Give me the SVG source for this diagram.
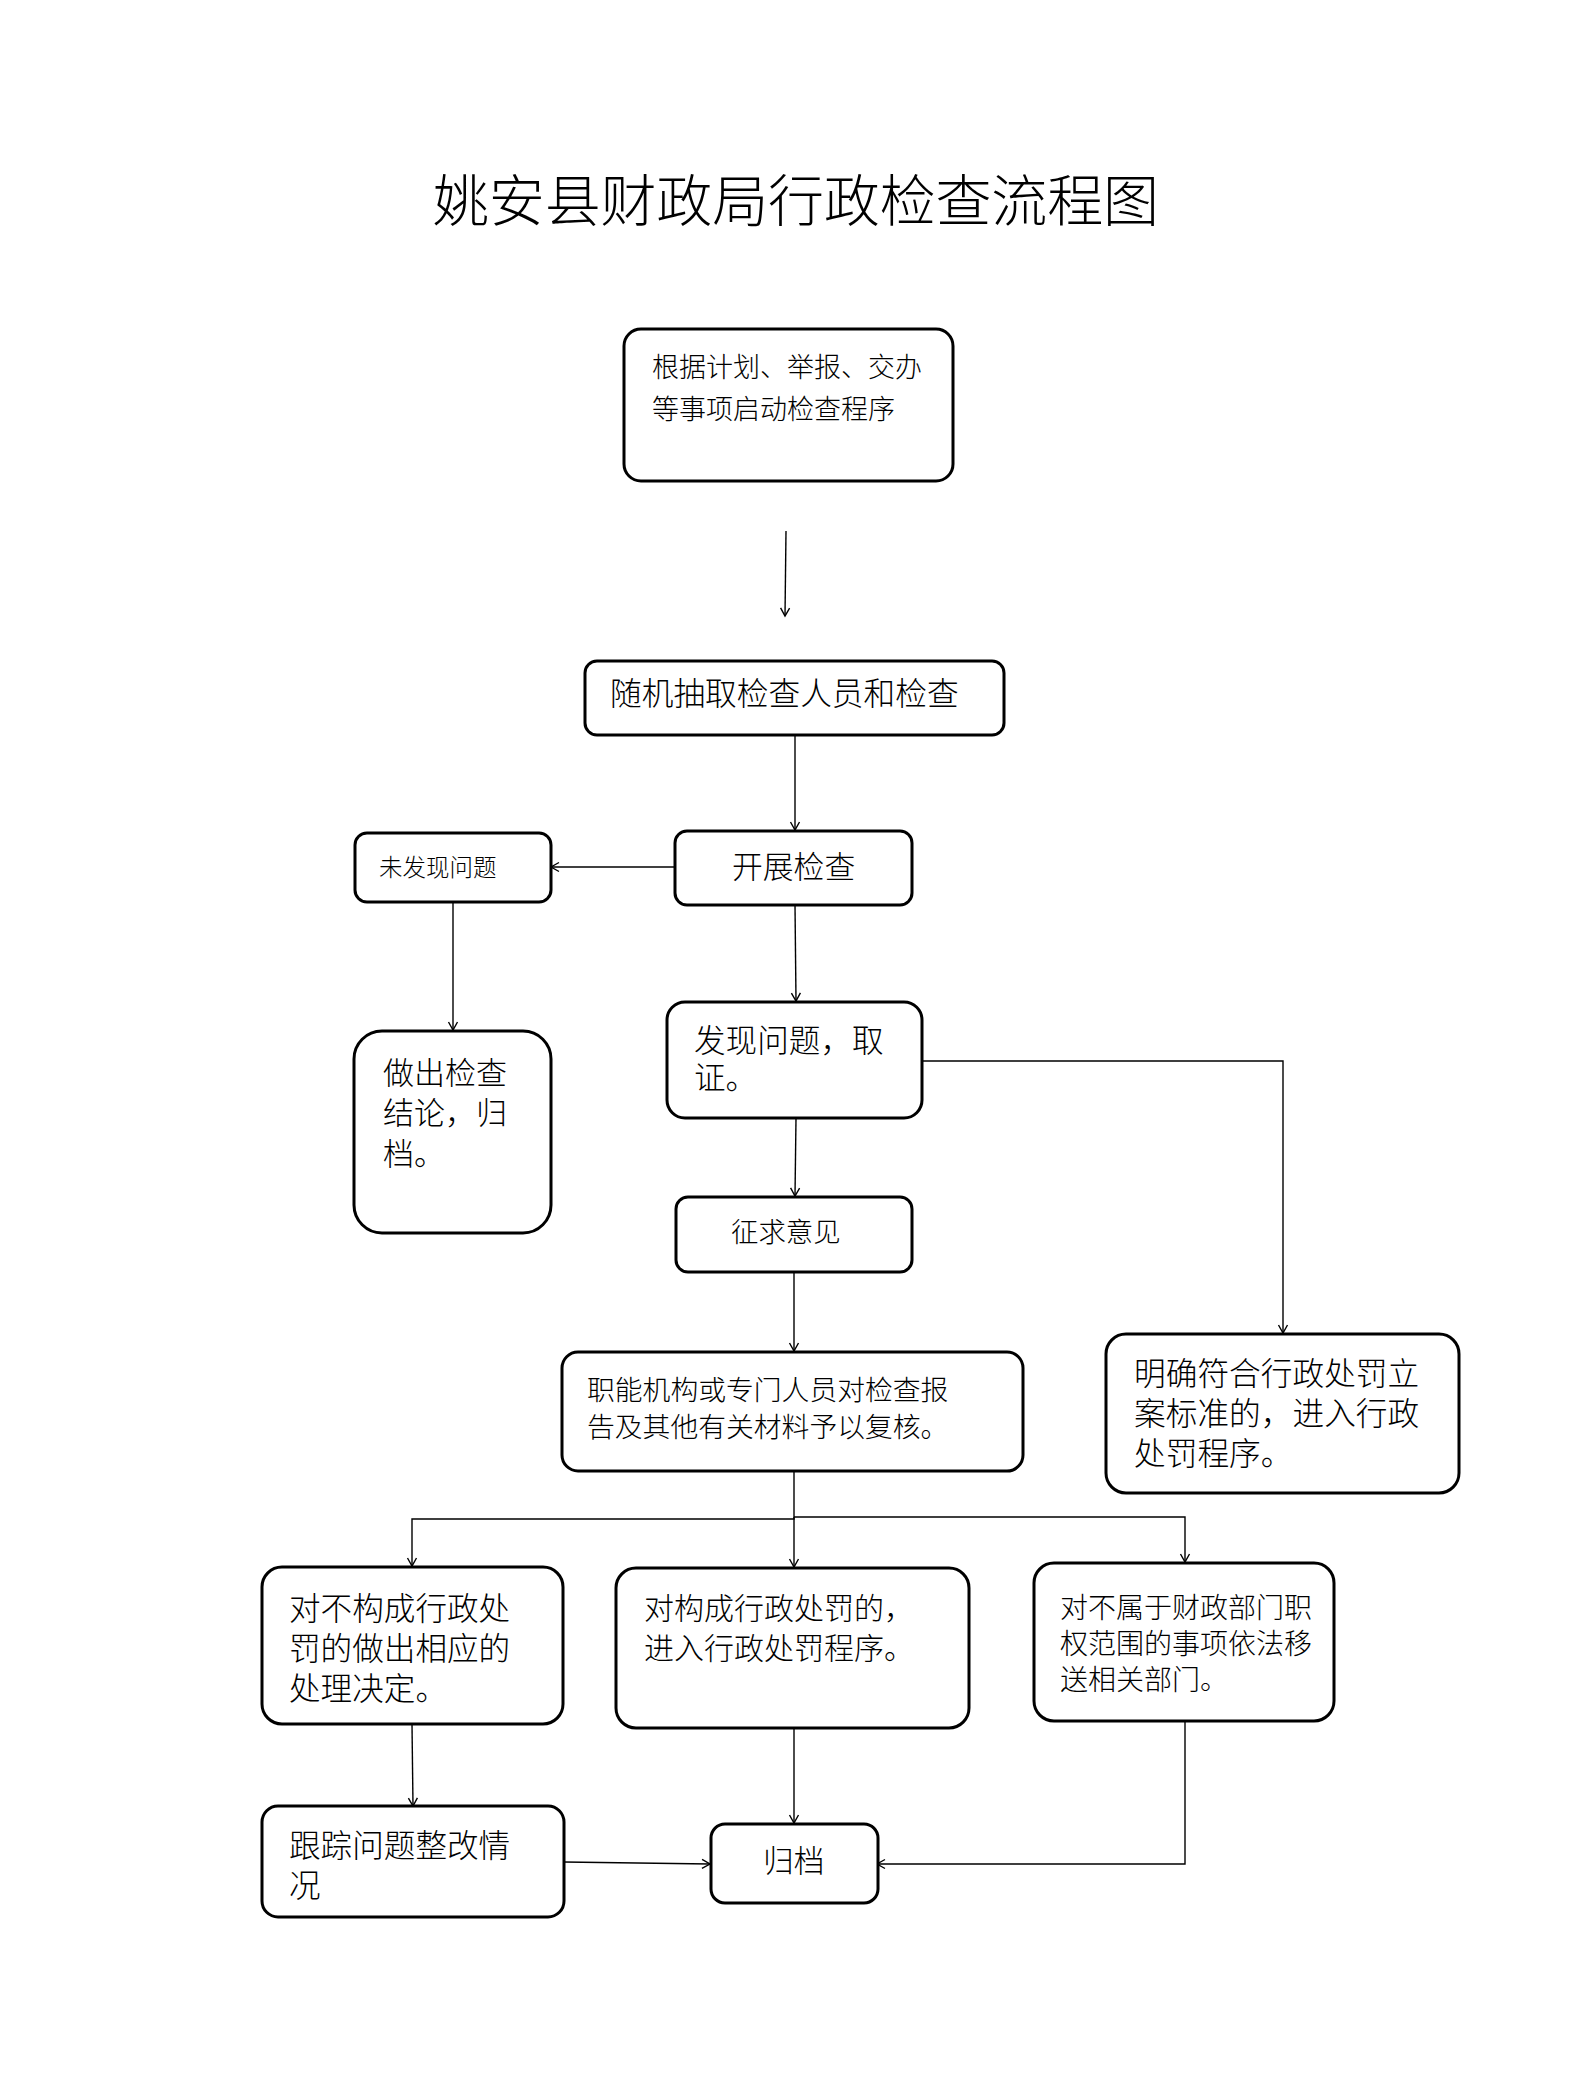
<svg xmlns="http://www.w3.org/2000/svg" width="1588" height="2090" viewBox="0 0 1588 2090">
<style>
.box{fill:#fff;stroke:#000;stroke-width:3}
.t{font-family:"Noto Sans CJK SC","Noto Sans CJK JP",sans-serif;font-weight:300;fill:#000}
.c{fill:none;stroke:#000;stroke-width:1.4}
</style>
<defs>
<marker id="a" markerUnits="userSpaceOnUse" markerWidth="12" markerHeight="12" viewBox="0 0 12 12" refX="10" refY="6" orient="auto">
<path d="M2,1.5 L10,6 L2,10.5" fill="none" stroke="#000" stroke-width="1.4"/>
</marker>
</defs>
<rect width="1588" height="2090" fill="#fff"/>
<text class="t" x="433" y="221" font-size="56" textLength="726">姚安县财政局行政检查流程图</text>

<g id="connectors">
<path class="c" d="M786,531 L785,616" marker-end="url(#a)"/>
<path class="c" d="M795,735 L795,830" marker-end="url(#a)"/>
<path class="c" d="M675,867 L551,867" marker-end="url(#a)"/>
<path class="c" d="M453,902 L453,1030" marker-end="url(#a)"/>
<path class="c" d="M795,905 L796,1001" marker-end="url(#a)"/>
<path class="c" d="M922,1061 L1283,1061 L1283,1333" marker-end="url(#a)"/>
<path class="c" d="M796,1118 L795,1196" marker-end="url(#a)"/>
<path class="c" d="M794,1272 L794,1351" marker-end="url(#a)"/>
<path class="c" d="M794,1471 L794,1519 L412,1519 L412,1566" marker-end="url(#a)"/>
<path class="c" d="M794,1517 L1185,1517 L1185,1562" marker-end="url(#a)"/>
<path class="c" d="M794,1517 L794,1567" marker-end="url(#a)"/>
<path class="c" d="M412,1724 L413,1806" marker-end="url(#a)"/>
<path class="c" d="M794,1728 L794,1823" marker-end="url(#a)"/>
<path class="c" d="M564,1862 L710,1864" marker-end="url(#a)"/>
<path class="c" d="M1185,1721 L1185,1864 L877,1864" marker-end="url(#a)"/>
</g>

<g id="n1">
<rect class="box" x="624" y="329" width="329" height="152" rx="17"/>
<text class="t" x="652" y="377" font-size="27">根据计划、举报、交办<tspan x="652" dy="42">等事项启动检查程序</tspan></text>
</g>
<g id="n2">
<rect class="box" x="585" y="661" width="419" height="74" rx="12"/>
<text class="t" x="610" y="705" font-size="31.7">随机抽取检查人员和检查</text>
</g>
<g id="n3">
<rect class="box" x="675" y="831" width="237" height="74" rx="12"/>
<text class="t" x="732" y="878" font-size="30.8">开展检查</text>
</g>
<g id="n4">
<rect class="box" x="355" y="833" width="196" height="69" rx="12"/>
<text class="t" x="379" y="876" font-size="23.5">未发现问题</text>
</g>
<g id="n5">
<rect class="box" x="354" y="1031" width="197" height="202" rx="28"/>
<text class="t" x="383" y="1084" font-size="31">做出检查<tspan x="383" dy="40">结论，归</tspan><tspan x="383" dy="41">档。</tspan></text>
</g>
<g id="n6">
<rect class="box" x="667" y="1002" width="255" height="116" rx="18"/>
<text class="t" x="694" y="1052" font-size="31.6">发现问题，取<tspan x="694" dy="37">证。</tspan></text>
</g>
<g id="n7">
<rect class="box" x="676" y="1197" width="236" height="75" rx="12"/>
<text class="t" x="731" y="1242" font-size="27.4">征求意见</text>
</g>
<g id="n8">
<rect class="box" x="562" y="1352" width="461" height="119" rx="16"/>
<text class="t" x="587" y="1400" font-size="27.8">职能机构或专门人员对检查报<tspan x="587" dy="37">告及其他有关材料予以复核。</tspan></text>
</g>
<g id="n9">
<rect class="box" x="1106" y="1334" width="353" height="159" rx="20"/>
<text class="t" x="1134" y="1385" font-size="31.7">明确符合行政处罚立<tspan x="1134" dy="40">案标准的，进入行政</tspan><tspan x="1134" dy="40">处罚程序。</tspan></text>
</g>
<g id="n10">
<rect class="box" x="262" y="1567" width="301" height="157" rx="20"/>
<text class="t" x="289" y="1620" font-size="31.6">对不构成行政处<tspan x="289" dy="40">罚的做出相应的</tspan><tspan x="289" dy="40">处理决定。</tspan></text>
</g>
<g id="n11">
<rect class="box" x="616" y="1568" width="353" height="160" rx="20"/>
<text class="t" x="644" y="1619" font-size="30">对构成行政处罚的，<tspan x="644" dy="40">进入行政处罚程序。</tspan></text>
</g>
<g id="n12">
<rect class="box" x="1034" y="1563" width="300" height="158" rx="20"/>
<text class="t" x="1060" y="1618" font-size="28">对不属于财政部门职<tspan x="1060" dy="36">权范围的事项依法移</tspan><tspan x="1060" dy="36">送相关部门。</tspan></text>
</g>
<g id="n13">
<rect class="box" x="262" y="1806" width="302" height="111" rx="16"/>
<text class="t" x="289" y="1857" font-size="31.6">跟踪问题整改情<tspan x="289" dy="40">况</tspan></text>
</g>
<g id="n14">
<rect class="box" x="711" y="1824" width="167" height="79" rx="14"/>
<text class="t" x="763" y="1872" font-size="30.7">归档</text>
</g>
</svg>
